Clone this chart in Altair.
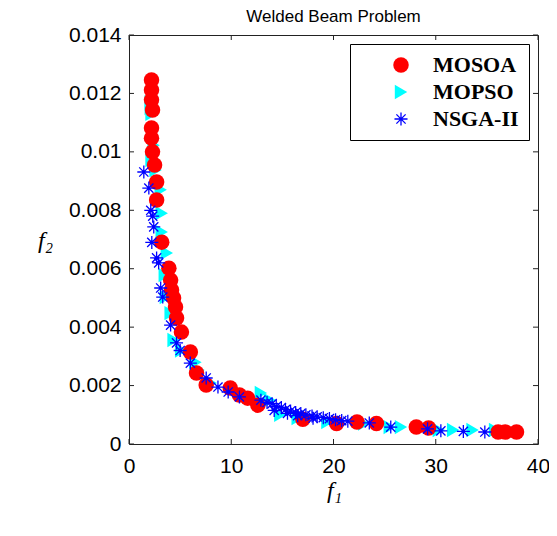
import math
import altair as alt
import pandas as pd

# ---------------- data ----------------
mosoa_x = [2.2, 2.2, 2.2, 2.3, 2.2, 2.2, 2.3, 2.5, 2.7, 2.7, 3.2, 3.9, 4.07, 4.16, 4.36,
           4.55, 4.65, 5.13, 6.0, 6.6, 7.55, 9.9, 10.8, 11.6, 12.6, 17.0, 20.3, 22.3,
           24.2, 28.1, 29.3, 36.1, 36.8, 37.9]
mosoa_y = [0.01246, 0.01212, 0.01178, 0.01143, 0.01082, 0.01047, 0.0100, 0.00955, 0.00897,
           0.00835, 0.00691, 0.00602, 0.00561, 0.00527, 0.0050, 0.00469, 0.00431, 0.00383,
           0.00315, 0.00243, 0.00202, 0.00192, 0.00168, 0.00157, 0.00133, 0.00085, 0.0007,
           0.00075, 0.0007, 0.00058, 0.00055, 0.00041, 0.00041, 0.00041]

mopso_x = [2.13, 2.13, 2.2, 2.4, 2.2, 2.6, 3.1, 3.2, 3.2, 3.7, 3.5, 3.6, 4.07, 4.36, 5.1,
           6.5, 6.8, 8.0, 12.9, 13.8, 14.8, 16.5, 19.4, 23.0, 25.5, 26.6, 30.3, 31.7,
           33.6, 35.8]
mopso_y = [0.0117, 0.0115, 0.0113, 0.01023, 0.00972, 0.00938, 0.0087, 0.0079, 0.00726,
           0.00654, 0.00578, 0.00503, 0.00448, 0.00356, 0.0032, 0.0028, 0.00253, 0.00209,
           0.00175, 0.0015, 0.0010, 0.00089, 0.00075, 0.0007, 0.00058, 0.00058, 0.00048,
           0.00048, 0.00048, 0.00048]

nsga_x = [1.45, 1.94, 2.13, 2.32, 2.42, 2.23, 2.7, 2.9, 3.1, 3.3, 4.07, 4.65, 5.0, 6.0,
          7.55, 8.7, 9.7, 10.8, 12.9, 13.5, 14.0, 14.2, 14.4, 14.9, 15.3, 15.5, 15.8,
          16.3, 16.5, 16.8, 17.3, 17.9, 18.0, 18.4, 19.0, 19.6, 20.2, 20.8, 21.4, 23.5,
          25.6, 29.2, 30.5, 32.7, 34.8]
nsga_y = [0.00931, 0.00876, 0.0080, 0.0078, 0.00743, 0.0069, 0.00637, 0.0062, 0.00534,
          0.00503, 0.00407, 0.00346, 0.0032, 0.00277, 0.00226, 0.00195, 0.00178, 0.00161,
          0.0015, 0.00142, 0.00138, 0.00115, 0.00128, 0.00125, 0.00118, 0.00105, 0.00113,
          0.00108, 0.00097, 0.00104, 0.0010, 0.00096, 0.00088, 0.00093, 0.0009, 0.00087,
          0.00083, 0.0008, 0.00078, 0.00072, 0.00058, 0.00052, 0.00045, 0.00043, 0.00041]

series_names = ["MOSOA", "MOPSO", "NSGA-II"]
series_colors = ["#ff0000", "#00ffff", "#0000ff"]

x_ticks = [0, 10, 20, 30, 40]
y_ticks = [0, 0.002, 0.004, 0.006, 0.008, 0.01, 0.012, 0.014]

# ---------------- helpers ----------------
def asterisk_path(t=0.1):
    parts = []
    for a in (0, 45, 90, 135):
        r = math.radians(a)
        c, s = math.cos(r), math.sin(r)
        nx, ny = -s * t, c * t
        pts = [(c + nx, s + ny), (c - nx, s - ny), (-c - nx, -s - ny), (-c + nx, -s + ny)]
        parts.append("M" + "L".join(f"{px:.3f},{py:.3f}" for px, py in pts) + "Z")
    return "".join(parts)

rows = []
for name, xs, ys in [("MOPSO", mopso_x, mopso_y), ("MOSOA", mosoa_x, mosoa_y),
                     ("NSGA-II", nsga_x, nsga_y)]:
    for a, b in zip(xs, ys):
        rows.append({"f1": a, "f2": b, "series": name})
df = pd.DataFrame(rows)

W, H = 409, 409
xscale = alt.Scale(domain=[0, 40], nice=False, zero=False)
yscale = alt.Scale(domain=[0, 0.014], nice=False, zero=False)

x_axis = alt.Axis(values=x_ticks, title="f₁", titleX=205, titleY=46,
                  titleAngle=0, titleAlign="center", titleBaseline="middle",
                  labelPadding=11)
y_axis = alt.Axis(values=y_ticks, format="~g", title="f₂", titleX=-84,
                  titleY=205, titleAngle=0, titleAlign="center",
                  titleBaseline="middle", labelPadding=8)

legend = alt.Legend(
    title=None, orient="none", legendX=221, legendY=9,
    strokeColor="black", fillColor="white", padding=10,
    labelFont="Liberation Serif", labelFontWeight="bold", labelFontSize=22,
    labelColor="black", symbolSize=200, symbolOffset=30, labelOffset=21,
    rowPadding=5, symbolStrokeWidth=0,
)

points = alt.Chart(df).mark_point(filled=True, opacity=1).encode(
    x=alt.X("f1:Q", scale=xscale, axis=x_axis),
    y=alt.Y("f2:Q", scale=yscale, axis=y_axis),
    color=alt.Color("series:N", scale=alt.Scale(domain=series_names, range=series_colors),
                    legend=legend),
    shape=alt.Shape("series:N",
                    scale=alt.Scale(domain=series_names,
                                    range=["circle", "triangle-right", asterisk_path()]),
                    legend=legend),
    size=alt.Size("series:N", scale=alt.Scale(domain=series_names, range=[240, 170, 190]),
                  legend=None),
)

xt = pd.DataFrame({"f1": x_ticks})
yt = pd.DataFrame({"f2": y_ticks})
tick_col = "#222222"
xb = alt.Chart(xt).mark_rule(color=tick_col).encode(
    x=alt.X("f1:Q", scale=xscale, axis=x_axis), y=alt.value(H), y2=alt.value(H - 5))
xtp = alt.Chart(xt).mark_rule(color=tick_col).encode(
    x=alt.X("f1:Q", scale=xscale, axis=x_axis), y=alt.value(0), y2=alt.value(5))
yl = alt.Chart(yt).mark_rule(color=tick_col).encode(
    y=alt.Y("f2:Q", scale=yscale, axis=y_axis), x=alt.value(0), x2=alt.value(5))
yr = alt.Chart(yt).mark_rule(color=tick_col).encode(
    y=alt.Y("f2:Q", scale=yscale, axis=y_axis), x=alt.value(W), x2=alt.value(W - 5))

chart = alt.layer(points, xb, xtp, yl, yr).properties(
    width=W, height=H,
    title=alt.TitleParams("Welded Beam Problem", font="Liberation Sans", fontSize=17,
                          fontWeight="normal", color="black", anchor="middle", offset=-2),
    autosize=alt.AutoSizeParams(type="none"),
    padding={"left": 121, "top": 27, "right": 11, "bottom": 60},
).configure_view(
    stroke="#222222", strokeWidth=1
).configure_axis(
    labelFont="Liberation Sans", labelFontSize=21, labelColor="black",
    ticks=False, domain=False, grid=False, labelFlush=False, labelOverlap=False,
    titleFont="Liberation Serif", titleFontStyle="italic", titleFontWeight="normal",
    titleFontSize=24, titleColor="black",
)

chart.save("out.html", embed_options={"renderer": "svg", "actions": False})
